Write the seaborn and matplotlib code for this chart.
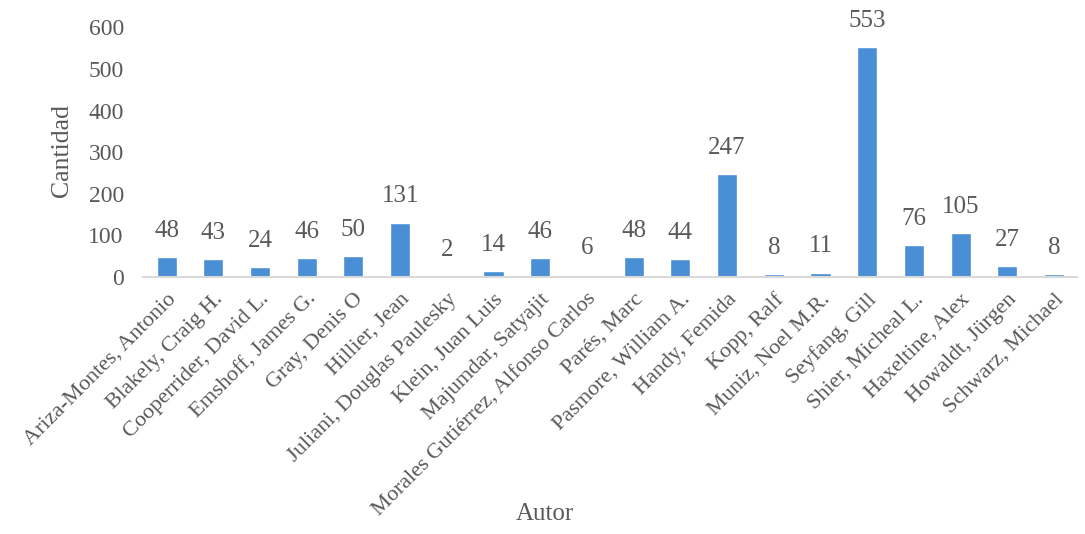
import numpy as np
import pandas as pd
import matplotlib
matplotlib.use("Agg")
import matplotlib.pyplot as plt
import seaborn as sns

# ── Data ──────────────────────────────────────────────────────────────────────
AUTHORS = [
    "Ariza-Montes, Antonio", "Blakely, Craig H.", "Cooperrider, David L.",
    "Emshoff, James G.", "Gray, Denis O", "Hillier, Jean",
    "Juliani, Douglas Paulesky", "Klein, Juan Luis", "Majumdar, Satyajit",
    "Morales Gutiérrez, Alfonso Carlos", "Parés, Marc", "Pasmore, William A.",
    "Handy, Femida", "Kopp, Ralf", "Muniz, Noel M.R.", "Seyfang, Gill",
    "Shier, Micheal L.", "Haxeltine, Alex", "Howaldt, Jürgen", "Schwarz, Michael",
]
COUNTS = [48, 43, 24, 46, 50, 131, 2, 14, 46, 6, 48, 44, 247, 8, 11, 553, 76, 105, 27, 8]
Y_TICKS = [0, 100, 200, 300, 400, 500, 600]

BAR_BLUE = "#4a8fd6"
TEXT_GREY = "#595959"
AXIS_GREY = "#d9d9d9"

df = pd.DataFrame({"Autor": AUTHORS, "Cantidad": COUNTS})

sns.set_theme(style="white")
plt.rcParams["font.family"] = ["Liberation Serif", "DejaVu Serif"]

fig = plt.figure(figsize=(10.85, 5.34), dpi=100)
ax = fig.add_axes([0.132, 0.481, 0.861, 0.468])

sns.barplot(data=df, x="Autor", y="Cantidad", color=BAR_BLUE, width=0.43,
            saturation=1, ax=ax)

for c in ax.containers:
    ax.bar_label(c, fmt="%d", padding=11, fontsize=18, color=TEXT_GREY)

ax.set_ylim(0, 600)
ax.set_xlim(-0.5, len(AUTHORS) - 0.5)
ax.set_yticks(Y_TICKS)
ax.tick_params(axis="y", length=0, pad=14, labelsize=17, labelcolor=TEXT_GREY)
ax.tick_params(axis="x", length=0, pad=9, labelsize=16, labelcolor=TEXT_GREY)
plt.setp(ax.get_xticklabels(), rotation=45, ha="right", rotation_mode="anchor")

for side in ["top", "right", "left"]:
    ax.spines[side].set_visible(False)
ax.spines["bottom"].set_color(AXIS_GREY)
ax.spines["bottom"].set_linewidth(1.5)

ax.set_xlabel("Autor", fontsize=18, color=TEXT_GREY)
ax.set_ylabel("Cantidad", fontsize=18.5, color=TEXT_GREY)
ax.xaxis.set_label_coords(0.43, -0.905)
ax.yaxis.set_label_coords(-0.075, 0.505)

fig.savefig("out.png", dpi=100)
plt.close(fig)
